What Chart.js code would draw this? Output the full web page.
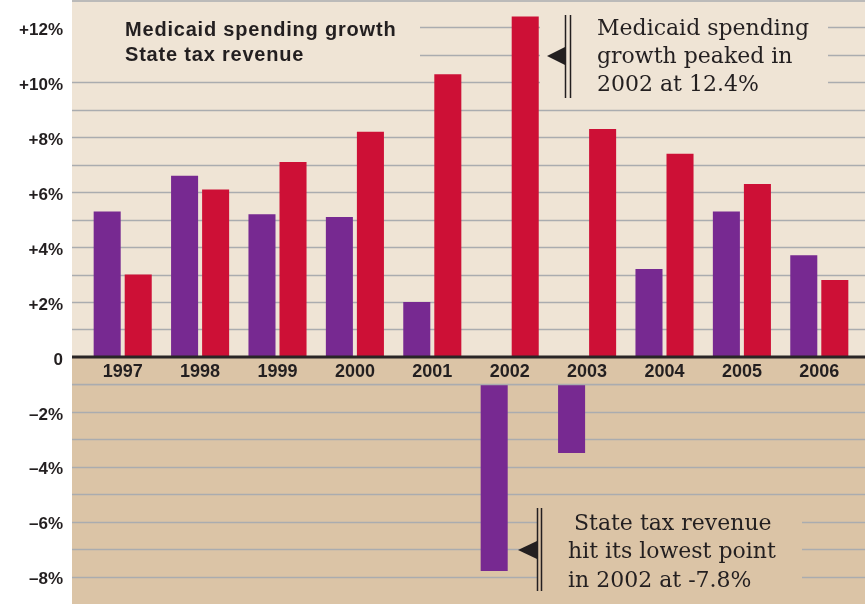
<!DOCTYPE html>
<html>
<head>
<meta charset="utf-8">
<script src="https://cdn.jsdelivr.net/npm/chart.js@4.4.1/dist/chart.umd.min.js"></script>
<style>
  html, body { margin: 0; padding: 0; background: #ffffff; }
  #chart { display: block; }
</style>
</head>
<body>
<canvas id="chart" width="865" height="604"></canvas>
<script>
// Data
const years = ['1997', '1998', '1999', '2000', '2001', '2002', '2003', '2004', '2005', '2006'];
const stateTaxRevenue = [5.3, 6.6, 5.2, 5.1, 2.0, -7.8, -3.5, 3.2, 5.3, 3.7];
const medicaidGrowth = [3.0, 6.1, 7.1, 8.2, 10.3, 12.4, 8.3, 7.4, 6.3, 2.8];
const yTickValues = [-8, -6, -4, -2, 0, 2, 4, 6, 8, 10, 12];
const yTickLabels = ['\u20138%', '\u20136%', '\u20134%', '\u20132%', '0', '+2%', '+4%', '+6%', '+8%', '+10%', '+12%'];

const PURPLE = '#772991';
const RED = '#cd1036';
const BG_TOP = '#efe4d5';
const BG_BOTTOM = '#dbc4a6';
const GRID = '#aaacaf';
const INK = '#231f20';
const SANS = '"Liberation Sans", Arial, sans-serif';
const SERIF = '"DejaVu Serif", "Liberation Serif", serif';
const PLOT_LEFT = 72;

function hLine(ctx, x1, x2, y, color, width){
    ctx.beginPath();
    ctx.moveTo(x1, y);
    ctx.lineTo(x2, y);
    ctx.strokeStyle = color;
    ctx.lineWidth = width;
    ctx.stroke();
}

function vLine(ctx, x, y1, y2){
    ctx.beginPath();
    ctx.moveTo(x, y1);
    ctx.lineTo(x, y2);
    ctx.strokeStyle = INK;
    ctx.lineWidth = 1.5;
    ctx.stroke();
}

function arrow(ctx, tipX, baseX, y, half){
    ctx.beginPath();
    ctx.moveTo(tipX, y);
    ctx.lineTo(baseX, y - half);
    ctx.lineTo(baseX, y + half);
    ctx.closePath();
    ctx.fillStyle = INK;
    ctx.fill();
}

const backdrop = {
    id: 'backdrop',
    beforeDraw(chart){
        const ctx = chart.ctx;
        const y = chart.scales.y;
        const w = chart.width;
        const top = chart.chartArea.top;
        const bottom = chart.chartArea.bottom;
        const y0 = y.getPixelForValue(0);
        ctx.save();
        ctx.fillStyle = BG_TOP;
        ctx.fillRect(PLOT_LEFT, top, w - PLOT_LEFT, y0 - top);
        ctx.fillStyle = BG_BOTTOM;
        ctx.fillRect(PLOT_LEFT, y0, w - PLOT_LEFT, bottom - y0);

        for (let v = -8; v <= 13; v++){
            if (v == 0) continue;
            let py = Math.round(y.getPixelForValue(v)) + 0.5;
            if (v == 13) py = 1;
            hLine(ctx, PLOT_LEFT, w, py, GRID, 1.5);
        }

        // gaps in the grid behind the legend and the notes
        ctx.fillStyle = BG_TOP;
        ctx.fillRect(PLOT_LEFT, 14, 420 - PLOT_LEFT, 52);
        ctx.fillRect(540, 10, 828 - 540, 90);
        ctx.fillStyle = BG_BOTTOM;
        ctx.fillRect(537, 505, 802 - 537, 90);

        // y tick labels, sitting a little under their grid lines
        ctx.fillStyle = INK;
        ctx.font = 'bold 17px ' + SANS;
        ctx.textAlign = 'right';
        ctx.textBaseline = 'middle';
        yTickValues.forEach((v, i) => {
            ctx.fillText(yTickLabels[i], 63, y.getPixelForValue(v) + 3);
        });
        ctx.restore();
    },
    afterDatasetsDraw(chart){
        // label band between 0 and -1
        const ctx = chart.ctx;
        const x = chart.scales.x;
        const y = chart.scales.y;
        const w = chart.width;
        const y0 = y.getPixelForValue(0);
        const y1 = y.getPixelForValue(-1);
        ctx.save();
        ctx.fillStyle = BG_BOTTOM;
        ctx.fillRect(PLOT_LEFT, y0, w - PLOT_LEFT, y1 - y0);
        hLine(ctx, PLOT_LEFT, w, Math.round(y1) + 0.5, GRID, 1.5);
        hLine(ctx, PLOT_LEFT, w, y0, '#2a2526', 3);

        ctx.fillStyle = INK;
        ctx.font = 'bold 18px ' + SANS;
        ctx.textAlign = 'center';
        ctx.textBaseline = 'middle';
        years.forEach((label, i) => {
            ctx.fillText(label, x.getPixelForValue(i), (y0 + y1) / 2 + 1);
        });
        ctx.restore();
    },
    afterDraw(chart){
        const ctx = chart.ctx;
        ctx.save();
        ctx.fillStyle = INK;
        ctx.textBaseline = 'alphabetic';
        ctx.textAlign = 'left';

        // legend
        ctx.font = 'bold 20px ' + SANS;
        ctx.letterSpacing = '0.8px';
        ctx.fillText('Medicaid spending growth', 125, 36);
        ctx.fillText('State tax revenue', 125, 61);
        ctx.letterSpacing = '0px';

        // peak note
        vLine(ctx, 565.5, 15, 98);
        vLine(ctx, 570.5, 15, 98);
        arrow(ctx, 547, 565, 56, 9);
        ctx.fillStyle = INK;
        ctx.font = '22px ' + SERIF;
        ctx.fillText('Medicaid spending', 597, 35);
        ctx.fillText('growth peaked in', 597, 63);
        ctx.fillText('2002 at 12.4%', 597, 91);

        // low note
        vLine(ctx, 537.5, 508, 591);
        vLine(ctx, 541.5, 508, 591);
        arrow(ctx, 518, 537, 550, 9);
        ctx.fillStyle = INK;
        ctx.fillText('State tax revenue', 574, 530);
        ctx.fillText('hit its lowest point', 568, 558);
        ctx.fillText('in 2002 at -7.8%', 568, 587);
        ctx.restore();
    }
};

const ctx = document.getElementById('chart').getContext('2d');

new Chart(ctx, {
    type: 'bar',
    data: {
        labels: years,
        datasets: [{
            label: 'State tax revenue',
            data: stateTaxRevenue,
            backgroundColor: PURPLE,
            categoryPercentage: 0.802,
            barPercentage: 0.871
        }, {
            label: 'Medicaid spending growth',
            data: medicaidGrowth,
            backgroundColor: RED,
            categoryPercentage: 0.802,
            barPercentage: 0.871
        }]
    },
    options: {
        responsive: false,
        devicePixelRatio: 1,
        animation: false,
        layout: { padding: { left: 84, right: 7, top: 0, bottom: 0 } },
        plugins: {
            legend: { display: false },
            tooltip: { enabled: false }
        },
        scales: {
            x: {
                display: false
            },
            y: {
                display: false,
                min: -9,
                max: 13
            }
        }
    },
    plugins: [backdrop]
});
</script>
</body>
</html>
